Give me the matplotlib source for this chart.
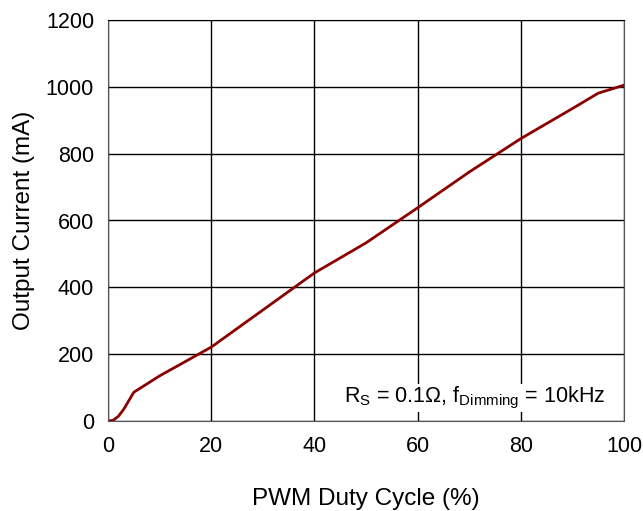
import matplotlib
matplotlib.use("Agg")
import matplotlib.pyplot as plt

duty = [0, 1, 2, 3, 4, 5, 10, 20, 30, 40, 50, 60, 70, 80, 90, 95, 100]
current = [0, 2, 14, 34, 60, 86, 135, 221, 332, 443, 533, 638, 745, 845, 935, 981, 1005]
xticks = [0, 20, 40, 60, 80, 100]
yticks = [0, 200, 400, 600, 800, 1000, 1200]

plt.rcParams['font.family'] = ['Liberation Sans', 'DejaVu Sans']
plt.rcParams['mathtext.fontset'] = 'custom'
plt.rcParams['mathtext.rm'] = 'Liberation Sans'

fig = plt.figure(figsize=(6.43, 5.11), dpi=100)
ax = fig.add_axes([108/643, 90/511, 516/643, 401/511])
ax.plot(duty, current, color='#8B0000', lw=2)
ax.set_xlim(0, 100)
ax.set_ylim(0, 1200)
ax.set_xticks(xticks)
ax.set_yticks(yticks)
ax.grid(True, color='black', lw=1)
ax.tick_params(direction='in', length=0, labelsize=15.5)
ax.tick_params(axis='x', pad=11)
ax.tick_params(axis='y', pad=10)
for s in ['left', 'bottom', 'right']:
    ax.spines[s].set_color('#555555')
ax.spines['top'].set_color('black')
ax.set_xlabel('PWM Duty Cycle (%)', fontsize=17.5, labelpad=22)
ax.set_ylabel('Output Current (mA)', fontsize=17.5, labelpad=8)
ax.text(0.458, 0.025, r'R$_\mathrm{S}$ = 0.1Ω, f$_\mathrm{Dimming}$ = 10kHz',
        transform=ax.transAxes, fontsize=15.5, ha='left', va='bottom',
        bbox=dict(facecolor='white', edgecolor='none', pad=1))
fig.savefig('out.png', dpi=100)
